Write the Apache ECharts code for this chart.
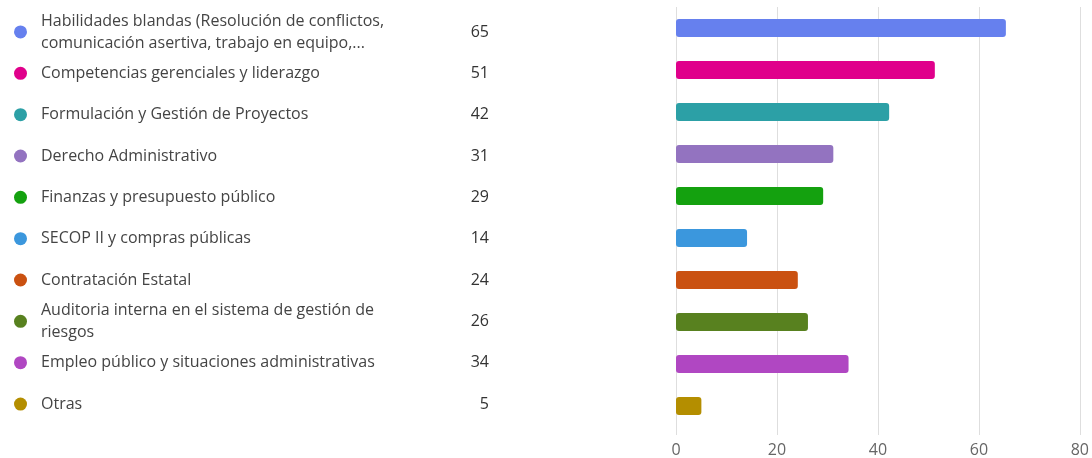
<!DOCTYPE html>
<html>
<head>
<meta charset="utf-8">
<style>
  html, body { margin: 0; padding: 0; background: #fff; }
  #chart { width: 1092px; height: 458px; }
</style>
<script src="https://cdn.jsdelivr.net/npm/echarts@6/dist/echarts.min.js"></script>
</head>
<body>
<div id="chart"></div>
<script>
// Training topics and the number of responses for each
const categories = [
  'Habilidades blandas (Resolución de conflictos,\ncomunicación asertiva, trabajo en equipo,...',
  'Competencias gerenciales y liderazgo',
  'Formulación y Gestión de Proyectos',
  'Derecho Administrativo',
  'Finanzas y presupuesto público',
  'SECOP II y compras públicas',
  'Contratación Estatal',
  'Auditoria interna en el sistema de gestión de\nriesgos',
  'Empleo público y situaciones administrativas',
  'Otras'
];
const values = [65, 51, 42, 31, 29, 14, 24, 26, 34, 5];
const colors = [
  '#6680EE', '#E0008B', '#2CA0A6', '#9373C0', '#14A10F',
  '#3B97DD', '#CA5111', '#58811F', '#B047C2', '#B48E00'
];
const xTicks = { min: 0, max: 80, interval: 20 };

const FONT = '"Open Sans", "Noto Sans", sans-serif';
const chart = echarts.init(document.getElementById('chart'), null, { renderer: 'canvas' });

// rich styles for the coloured dots in the legend column
const dotRich = {};
colors.forEach((c, i) => {
  dotRich['c' + i] = { width: 13, height: 13, borderRadius: 6.5, backgroundColor: c };
});

const legendGrid = { left: 676, right: 10, top: 11.3, height: 413.4 };
const hiddenX = (gi) => ({ type: 'value', gridIndex: gi, min: 0, max: 1, show: false });
const legendY = (gi, data, label) => ({
  type: 'category', gridIndex: gi, inverse: true, data: data,
  axisLine: { show: false }, axisTick: { show: false }, splitLine: { show: false },
  axisLabel: Object.assign({ interval: 0, fontFamily: FONT, fontSize: 16 }, label)
});

chart.setOption({
  animation: false,
  backgroundColor: '#fff',
  grid: [
    // value axis with grid lines
    { left: 676, right: 10, top: 7, bottom: 20 },
    // bars
    { left: 676, right: 10, top: 7, height: 420 },
    // legend columns: dots, names, counts
    legendGrid, legendGrid, legendGrid
  ],
  xAxis: [
    {
      type: 'value', gridIndex: 0, min: xTicks.min, max: xTicks.max, interval: xTicks.interval,
      axisLine: { show: false }, axisTick: { show: false },
      splitLine: { lineStyle: { color: '#dedede', width: 1 } },
      axisLabel: { color: '#666', fontFamily: FONT, fontSize: 16, margin: 7 }
    },
    { type: 'value', gridIndex: 1, min: xTicks.min, max: xTicks.max, show: false },
    hiddenX(2), hiddenX(3), hiddenX(4)
  ],
  yAxis: [
    { type: 'category', gridIndex: 0, data: categories, inverse: true, show: false },
    { type: 'category', gridIndex: 1, data: categories, inverse: true, show: false },
    legendY(2, categories, {
      align: 'left', margin: 662,
      formatter: (v, i) => '{c' + i + '|}',
      rich: dotRich
    }),
    legendY(3, categories, {
      align: 'left', margin: 635, color: '#444', lineHeight: 22
    }),
    legendY(4, values, {
      align: 'right', margin: 187, color: '#333'
    })
  ],
  series: [{
    type: 'bar',
    xAxisIndex: 1, yAxisIndex: 1,
    barWidth: 18,
    data: values.map((v, i) => ({ value: v, itemStyle: { color: colors[i] } })),
    itemStyle: { borderRadius: 3 }
  }]
});
</script>
</body>
</html>
